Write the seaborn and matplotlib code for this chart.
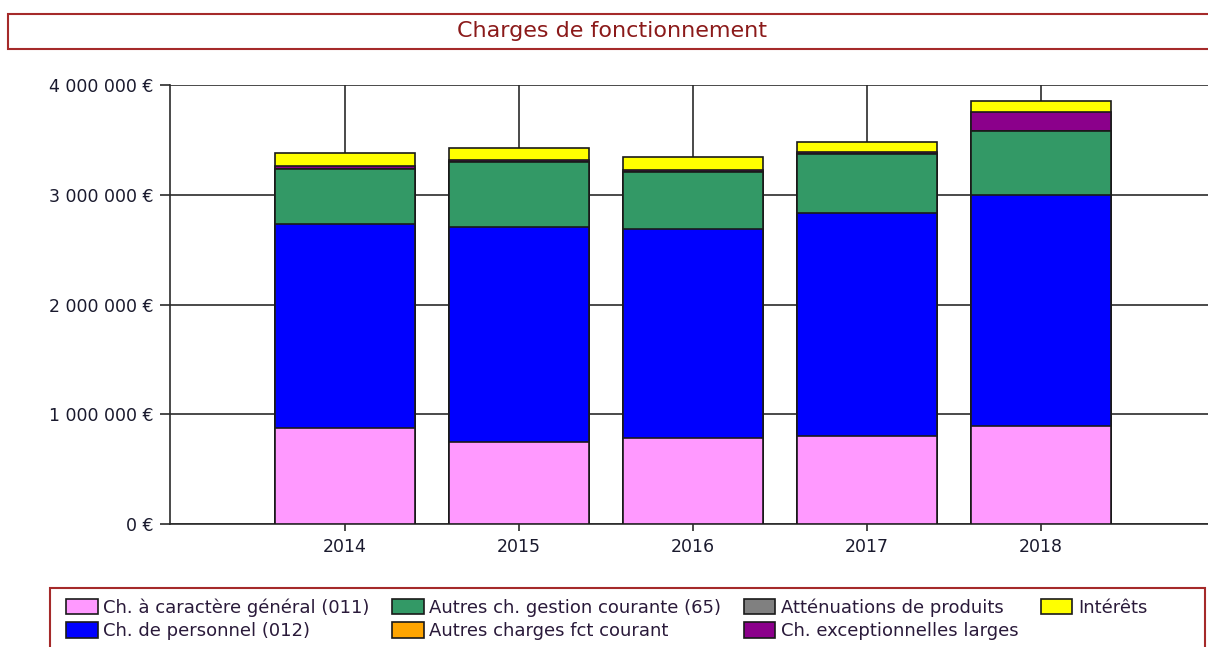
import matplotlib
matplotlib.use("Agg")
import matplotlib.pyplot as plt
import matplotlib.patches as mpatches
from matplotlib.ticker import FuncFormatter
import seaborn as sns
import pandas as pd
import numpy as np

# données (en euros)
annees = ["2014", "2015", "2016", "2017", "2018"]
ch_general = [875000, 747000, 784000, 800000, 893000]
ch_personnel = [1860000, 1960000, 1905000, 2037000, 2102000]
autres_gestion = [500000, 590000, 520000, 534000, 589000]
attenuations = [0, 0, 0, 0, 0]
autres_fct = [0, 0, 0, 0, 0]
ch_exception = [25000, 20000, 16000, 16000, 173000]
interets = [120000, 106000, 115000, 97000, 100000]

series = [
    ("Ch. à caractère général (011)", ch_general, "#ff99ff"),
    ("Ch. de personnel (012)", ch_personnel, "#0000ff"),
    ("Autres ch. gestion courante (65)", autres_gestion, "#339966"),
    ("Autres charges fct courant", autres_fct, "#ffa500"),
    ("Atténuations de produits", attenuations, "#808080"),
    ("Ch. exceptionnelles larges", ch_exception, "#8b008b"),
    ("Intérêts", interets, "#ffff00"),
]
# ordre d'empilement (bas -> haut)
pile = [0, 1, 2, 4, 3, 5, 6]

sns.set_style("white")
plt.rcParams["font.family"] = ["DejaVu Sans"]

fig = plt.figure(figsize=(12.08, 6.47), dpi=100)
ax = fig.add_axes([170 / 1208, 1 - 524 / 647, (1208 - 170) / 1208, (524 - 85) / 647])

df = pd.DataFrame({"annee": annees})
cumul = np.zeros(len(annees))
cumuls = []
for i in pile:
    cumul = cumul + np.array(series[i][1])
    cumuls.append((i, cumul.copy()))

# on dessine du haut vers le bas pour simuler l'empilement
for k, (i, c) in enumerate(reversed(cumuls)):
    df["val"] = c
    sns.barplot(data=df, x="annee", y="val", color=series[i][2], saturation=1,
                width=0.8, edgecolor="#1a1a1a", linewidth=1.2, ax=ax, zorder=3 + k)

ax.set_ylim(0, 4000000)
ax.set_xlim(-1.006, 4.96)
ax.set_yticks([0, 1000000, 2000000, 3000000, 4000000])
ax.yaxis.set_major_formatter(FuncFormatter(lambda v, p: f"{int(v):,} €".replace(",", " ")))
ax.set_xlabel("")
ax.set_ylabel("")
ax.set_axisbelow(True)
ax.grid(True, color="#2b2b2b", linewidth=1.2)
for s in ["top", "right"]:
    ax.spines[s].set_visible(False)
for s in ["left", "bottom"]:
    ax.spines[s].set_color("#2b2b2b")
    ax.spines[s].set_linewidth(1.2)
ax.tick_params(axis="y", length=7, width=1.2, color="#2b2b2b", labelsize=12.5,
               labelcolor="#1a1a2e", pad=5, left=True)
ax.tick_params(axis="x", length=5, width=1.2, color="#2b2b2b", labelsize=12.5,
               labelcolor="#1a1a2e", pad=5, bottom=True)

# titre encadré
fig.patches.append(mpatches.Rectangle((8 / 1208, 1 - 49 / 647), 1.2, 35 / 647,
                                      transform=fig.transFigure, facecolor="white",
                                      edgecolor="#a52a2a", linewidth=1.5))
fig.text(612 / 1208, 1 - 31 / 647, "Charges de fonctionnement", ha="center", va="center",
         fontsize=16, color="#8b1a1a")

# légende encadrée
fig.patches.append(mpatches.Rectangle((50 / 1208, -0.1), (1205 - 50) / 1208, 0.1 + (647 - 588) / 647,
                                      transform=fig.transFigure, facecolor="white",
                                      edgecolor="#a52a2a", linewidth=1.5))
handles = [mpatches.Patch(facecolor=s[2], edgecolor="#1a1a1a", linewidth=1.2) for s in series]
labels = [s[0] for s in series]
leg = fig.legend(handles, labels, ncol=4, loc="upper left", bbox_to_anchor=(57 / 1208, 1 - 589 / 647),
                 frameon=False, prop={"size": 13},
                 handlelength=1.75, handleheight=0.95, handletextpad=0.3, columnspacing=1.25,
                 labelspacing=0.3, borderpad=0)
for t in leg.get_texts():
    t.set_color("#2a1a3a")

fig.savefig("out.png", dpi=100)
